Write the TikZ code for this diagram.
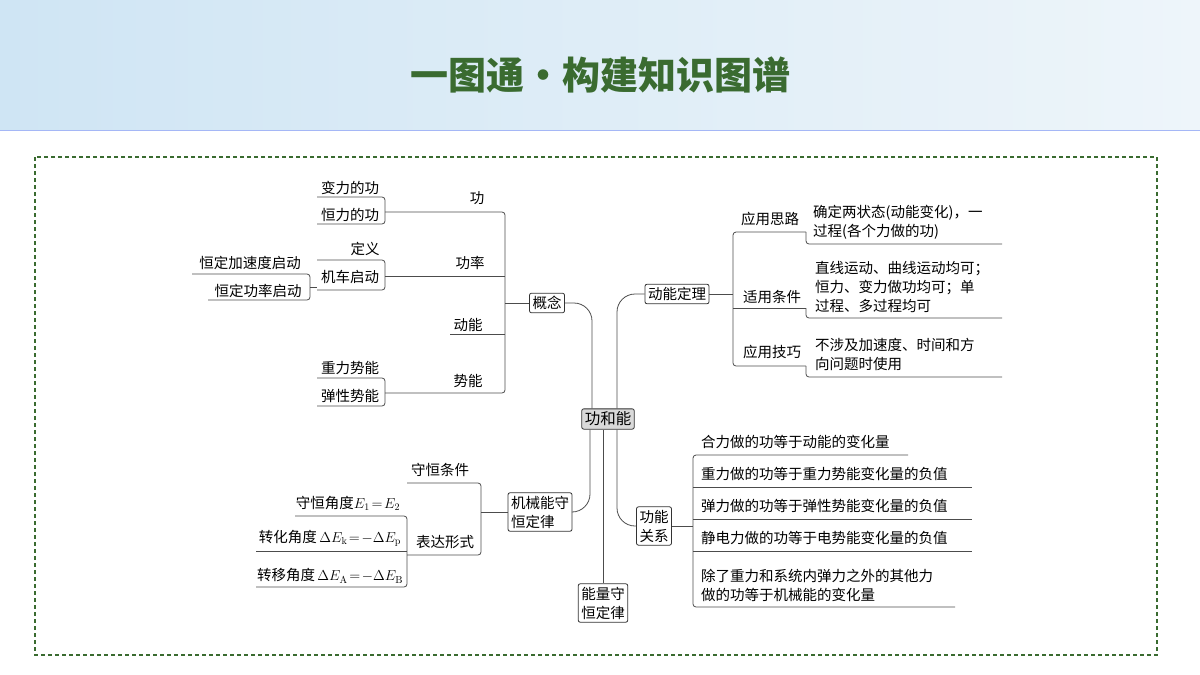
\documentclass[tikz,border=0pt]{standalone}
\usepackage{fontspec}
\newfontfamily\cjk{Noto Sans CJK SC}
\usetikzlibrary{positioning}
\definecolor{titlegreen}{HTML}{3A6B30}
\definecolor{boxgray}{HTML}{D9D9D9}
\definecolor{skyleft}{HTML}{CFE5F4}
\definecolor{skyright}{HTML}{EEF5FA}
\begin{document}
\begin{tikzpicture}[x=1pt,y=-1pt,font=\cjk\fontsize{14.5}{19}\selectfont]
  \tikzstyle{box}=[draw=black!80,rounded corners=2pt,thick,inner sep=3pt,align=left]
  \tikzstyle{txt}=[inner sep=1pt,align=left]
  \tikzstyle{line}=[draw=black!70,thick,rounded corners=3pt]
  \useasboundingbox (0,0) rectangle (1200,675);

  % header
  \shade[left color=skyleft,right color=skyright] (0,0) rectangle (1200,130);
  \draw[skyleft!80!blue,thick] (0,130) -- (1200,130);
  \node(title) at (600,75) {\fontsize{38}{42}\selectfont\bfseries\color{titlegreen}一图通·构建知识图谱};
  \draw[titlegreen,dash pattern=on 4pt off 3pt,line width=1.3pt] (35,157) rectangle (1157,655);

  % main nodes
  \node[box,fill=boxgray](cen) at (608,419) {\fontsize{15.5}{18}\selectfont 功和能};
  \node[box](gn) at (547,303) {概念};
  \node[box](dn) at (677,294) {动能定理};
  \node[box](jx) at (540,512) {机械能守\\恒定律};
  \node[box](gg) at (654,526) {功能\\关系};
  \node[box](nl) at (603,603) {能量守\\恒定律};

  \draw[line,rounded corners=18pt] ([xshift=-16pt]cen.north) |- (gn.east);
  \draw[line,rounded corners=18pt] ([xshift=9pt]cen.north) |- (dn.west);
  \draw[line,rounded corners=18pt] ([xshift=-18pt]cen.south) |- (jx.east);
  \draw[line,rounded corners=18pt] ([xshift=9pt]cen.south) |- (gg.west);
  \draw[line] (cen.south -| nl.north) -- (nl.north);

  % 概念
  \coordinate(g0) at (505,303);
  \node[txt](g1) at (477,198) {功};
  \node[txt](g2) at (470,263) {功率};
  \node[txt](g3) at (468,325) {动能};
  \node[txt](g4) at (468,381) {势能};
  \draw[line] (gn.west) -- (g0);
  \draw[line] (385,212) -- (505,212) -- (505,393) -- (385,393);
  \draw[line] (385,276) -- (505,276);
  \draw[line] (450,334) -- (505,334);

  \node[txt](g11) at (350,188) {变力的功};
  \node[txt](g12) at (350,215) {恒力的功};
  \draw[line] (317,197) -- (385,197) -- (385,224) -- (317,224);
  \node[txt](g21) at (365,249) {定义};
  \node[txt](g22) at (350,277) {机车启动};
  \draw[line] (317,260) -- (385,260) -- (385,290) -- (317,290);
  \node[txt](g221) at (250,263) {恒定加速度启动};
  \node[txt](g222) at (258,291) {恒定功率启动};
  \draw[line] (192,274) -- (310,274) -- (310,300) -- (208,300);
  \draw[line] (310,287) -- (317,287);
  \node[txt](g41) at (350,368) {重力势能};
  \node[txt](g42) at (350,396) {弹性势能};
  \draw[line] (317,378) -- (385,378) -- (385,406) -- (317,406);

  % 机械能守恒定律
  \node[txt](j1) at (440,470) {守恒条件};
  \node[txt](j2) at (445,542) {表达形式};
  \draw[line] (jx.west) -- (481,512);
  \draw[line] (407,483) -- (481,483) -- (481,555) -- (407,555);
  \node[txt](j21) at (348,503) {守恒角度$E_1\!=\!E_2$};
  \node[txt](j22) at (330,538) {转化角度\,$\Delta E_{\mathrm k}\!=\!-\Delta E_{\mathrm p}$};
  \node[txt](j23) at (330,576) {转移角度\,$\Delta E_{\mathrm A}\!=\!-\Delta E_{\mathrm B}$};
  \draw[line] (295,516) -- (407,516) -- (407,587) -- (256,587);
  \draw[line] (256,551) -- (407,551);

  % 动能定理
  \draw[line] (dn.east) -- (733,294);
  \draw[line] (806,232) -- (733,232) -- (733,366) -- (806,366);
  \draw[line] (733,308) -- (806,308);
  \node[txt](d1) at (770,219) {应用思路};
  \node[txt](d2) at (772,297) {适用条件};
  \node[txt](d3) at (772,352) {应用技巧};
  \node[txt,anchor=west](d1t) at (812,222) {确定两状态(动能变化)，一\\过程(各个力做的功)};
  \node[txt,anchor=west](d2t) at (814,287) {直线运动、曲线运动均可；\\恒力、变力做功均可；单\\过程、多过程均可};
  \node[txt,anchor=west](d3t) at (814,354) {不涉及加速度、时间和方\\向问题时使用};
  \draw[line] (806,232) -- (806,244) -- (1002,244);
  \draw[line] (806,308) -- (806,318) -- (1002,318);
  \draw[line] (806,366) -- (806,377) -- (1002,377);

  % 功能关系
  \draw[line] (gg.east) -- (693,526);
  \draw[line] (908,455) -- (693,455) -- (693,607) -- (955,607);
  \draw[line] (693,487) -- (972,487);
  \draw[line] (693,519) -- (972,519);
  \draw[line] (693,551) -- (972,551);
  \node[txt,anchor=west](r1) at (700,442) {合力做的功等于动能的变化量};
  \node[txt,anchor=west](r2) at (700,474) {重力做的功等于重力势能变化量的负值};
  \node[txt,anchor=west](r3) at (700,506) {弹力做的功等于弹性势能变化量的负值};
  \node[txt,anchor=west](r4) at (700,538) {静电力做的功等于电势能变化量的负值};
  \node[txt,anchor=west](r5) at (700,585) {除了重力和系统内弹力之外的其他力\\做的功等于机械能的变化量};
\end{tikzpicture}
\end{document}
